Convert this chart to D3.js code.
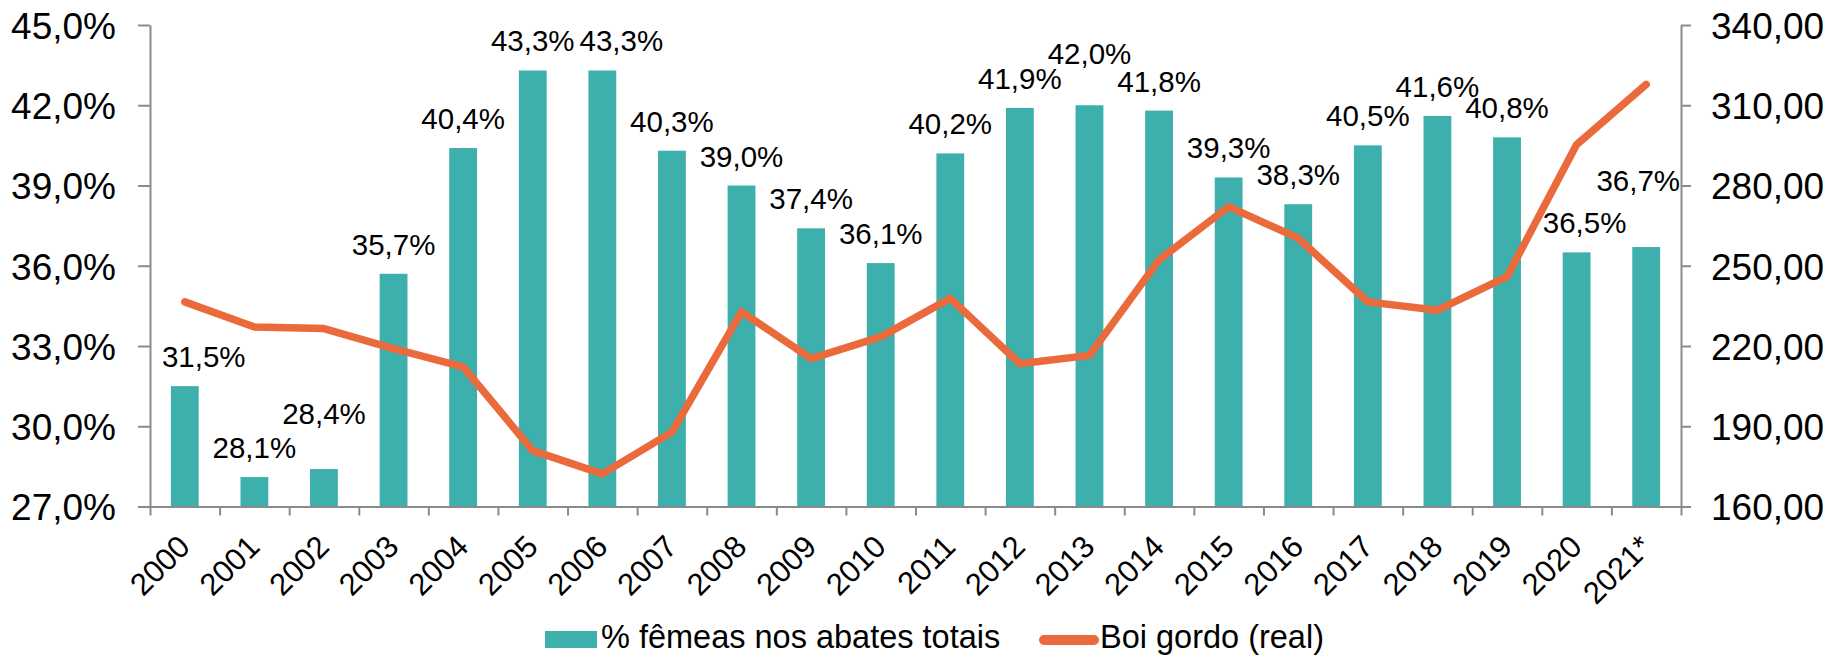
<!DOCTYPE html>
<html>
<head>
<meta charset="utf-8">
<script src="https://cdn.jsdelivr.net/npm/d3@7"></script>
<style>
  html, body { margin: 0; padding: 0; background: #fff; }
  svg { display: block; font-family: "Liberation Sans", Arial, sans-serif; }
</style>
</head>
<body>
<svg id="chart" width="1832" height="656"></svg>
<script>
// ---------- DATA ----------
const years = ["2000","2001","2002","2003","2004","2005","2006","2007","2008","2009","2010",
               "2011","2012","2013","2014","2015","2016","2017","2018","2019","2020","2021*"];
const femeasPct = [31.5,28.1,28.4,35.7,40.4,43.3,43.3,40.3,39.0,37.4,36.1,
                   40.2,41.9,42.0,41.8,39.3,38.3,40.5,41.6,40.8,36.5,36.7];
const boiGordo = [236.5,227.1,226.5,219.0,212.2,180.9,172.2,187.8,232.8,215.3,223.4,
                  237.8,213.4,216.5,252.2,272.1,260.3,236.5,233.4,245.9,295.3,317.8];
const leftTicks = [27,30,33,36,39,42,45];
const rightTicks = [160,190,220,250,280,310,340];
const seriesNames = ["% fêmeas nos abates totais", "Boi gordo (real)"];

// ---------- LAYOUT ----------
const W = 1832, H = 656;
const xL = 150, xR = 1681, yTop = 25, yBot = 506.5;
const teal = "#3DB0AE", orange = "#EB6A3B", axisGray = "#8a8a8a";

const loc = d3.formatLocale({decimal: ",", thousands: ".", grouping: [3], currency: ["R$", ""]});
const fPct = v => loc.format(".1f")(v) + "%";
const fNum = loc.format(".2f");

const svg = d3.select("#chart");

const x = d3.scaleBand().domain(years).range([xL, xR]).paddingInner(0.6).paddingOuter(0.3);
const xEdge = d3.scaleLinear().domain([0, years.length]).range([xL, xR]);
const yL = d3.scaleLinear().domain([27, 45]).range([yBot, yTop]);
const yR = d3.scaleLinear().domain([160, 340]).range([yBot, yTop]);
const cx = d => x(d) + x.bandwidth() / 2;

// bars
svg.append("g").selectAll("rect").data(years).join("rect")
  .attr("x", d => x(d))
  .attr("y", (d, i) => yL(femeasPct[i]))
  .attr("width", x.bandwidth())
  .attr("height", (d, i) => yBot - yL(femeasPct[i]))
  .attr("fill", teal);

// axes
function styleAxis(g) {
  g.selectAll(".domain").attr("stroke", axisGray).attr("stroke-width", 2);
  g.selectAll(".tick line").attr("stroke", axisGray).attr("stroke-width", 2);
  g.selectAll("text").attr("fill", "#000").attr("font-family", "Liberation Sans, Arial, sans-serif");
}

const gL = svg.append("g").attr("transform", `translate(${xL},0)`)
  .call(d3.axisLeft(yL).tickValues(leftTicks).tickFormat(fPct).tickSize(12).tickSizeOuter(0).tickPadding(22));
gL.selectAll("text").attr("font-size", 37).attr("dy", "0.36em");
styleAxis(gL);

const gR = svg.append("g").attr("transform", `translate(${xR},0)`)
  .call(d3.axisRight(yR).tickValues(rightTicks).tickFormat(fNum).tickSize(10).tickSizeOuter(0).tickPadding(20));
gR.selectAll("text").attr("font-size", 37).attr("dy", "0.36em");
styleAxis(gR);

const gB = svg.append("g").attr("transform", `translate(0,${yBot})`)
  .call(d3.axisBottom(xEdge).tickValues(d3.range(years.length + 1)).tickFormat("").tickSize(9).tickSizeOuter(0));
styleAxis(gB);

// x labels rotated
svg.append("g").selectAll("text").data(years).join("text")
  .attr("transform", d => `translate(${cx(d) + 7},${yBot + 42}) rotate(-45)`)
  .attr("text-anchor", "end")
  .attr("font-size", 31)
  .attr("fill", "#000")
  .text(d => d);

// line
const line = d3.line().x((d, i) => cx(years[i])).y(d => yR(d));
svg.append("path").datum(boiGordo)
  .attr("d", line)
  .attr("fill", "none")
  .attr("stroke", orange)
  .attr("stroke-width", 7.5)
  .attr("stroke-linejoin", "round")
  .attr("stroke-linecap", "round");

// data labels (manual nudges as in the original layout)
const nudge = {"2000": [19, 0], "2002": [0, -26], "2006": [19, 0], "2013": [0, -22],
               "2020": [8, 0], "2021*": [-8, -37]};
svg.append("g").selectAll("text").data(years).join("text")
  .attr("x", d => cx(d) + (nudge[d] ? nudge[d][0] : 0))
  .attr("y", (d, i) => yL(femeasPct[i]) - 19 + (nudge[d] ? nudge[d][1] : 0))
  .attr("text-anchor", "middle")
  .attr("font-size", 29.5)
  .attr("fill", "#000")
  .text((d, i) => fPct(femeasPct[i]));

// legend
const lg = svg.append("g");
lg.append("rect").attr("x", 545).attr("y", 631).attr("width", 52).attr("height", 17).attr("fill", teal);
lg.append("text").attr("x", 601).attr("y", 648).attr("font-size", 32.5).attr("fill", "#000").text(seriesNames[0]);
lg.append("line").attr("x1", 1044).attr("x2", 1094).attr("y1", 640).attr("y2", 640)
  .attr("stroke", orange).attr("stroke-width", 10).attr("stroke-linecap", "round");
lg.append("text").attr("x", 1100).attr("y", 648).attr("font-size", 32.5).attr("fill", "#000").text(seriesNames[1]);
</script>
</body>
</html>
